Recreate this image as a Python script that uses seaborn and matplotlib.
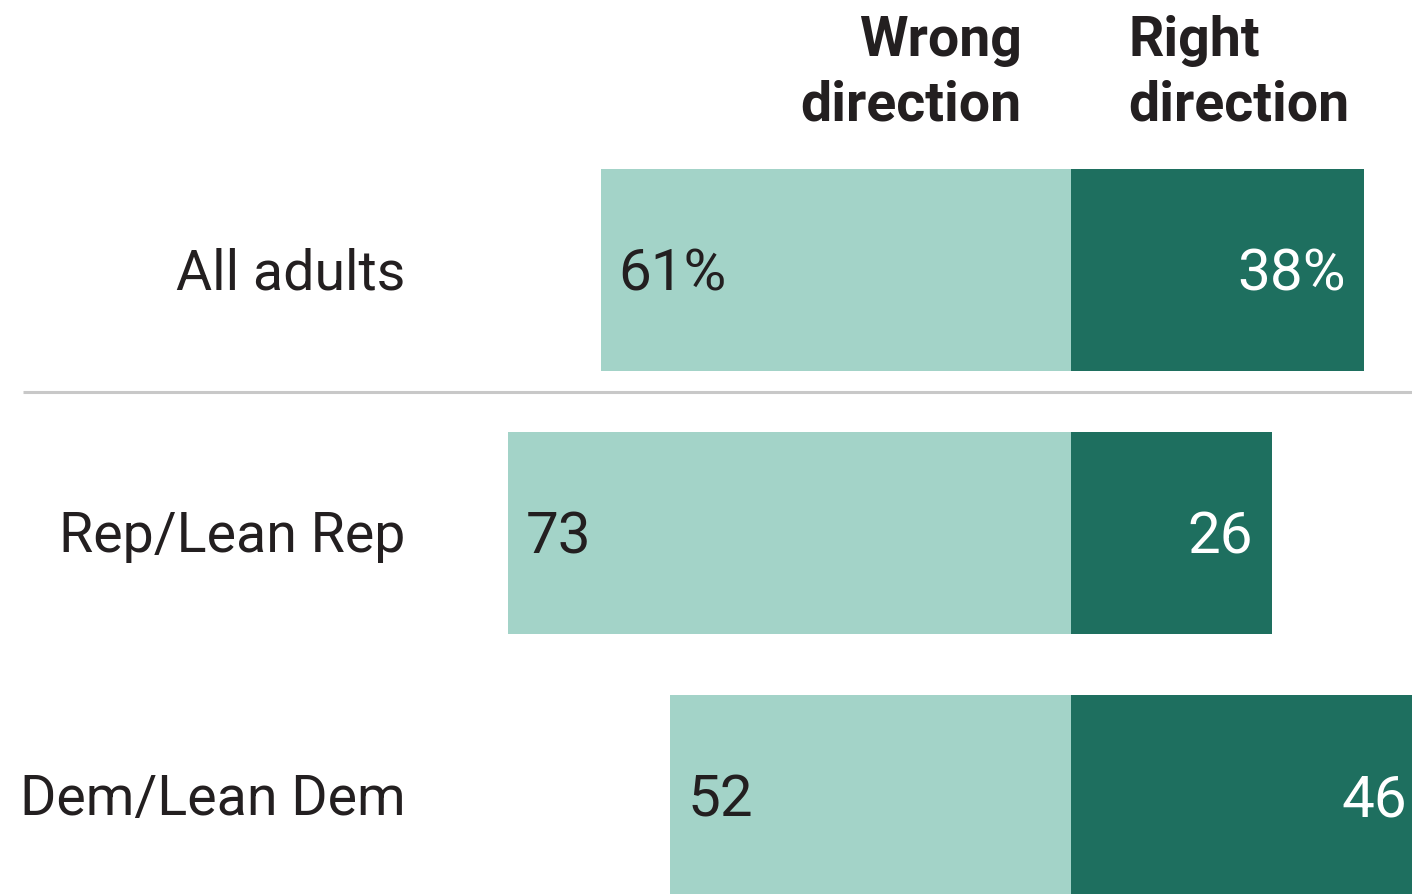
import matplotlib
matplotlib.use("Agg")
import matplotlib.pyplot as plt
from matplotlib import font_manager
import seaborn as sns
import pandas as pd

groups = ["All adults", "Rep/Lean Rep", "Dem/Lean Dem"]
wrong = [61, 73, 52]
right = [38, 26, 46]
value_labels_wrong = ["61%", "73", "52"]
value_labels_right = ["38%", "26", "46"]
headers = ["Wrong\ndirection", "Right\ndirection"]

LIGHT = "#a3d3c8"
DARK = "#1e6f5f"
TEXT = "#231f20"

sns.set_theme(style="white")

available = {f.name for f in font_manager.fontManager.ttflist}
def pick(*names):
    for n in names:
        if n in available:
            return n
    return "DejaVu Sans"

body_font = pick("Roboto", "Liberation Sans", "DejaVu Sans")
head_font = pick("Roboto", "Liberation Sans", "DejaVu Sans")
plt.rcParams["font.family"] = [body_font, "DejaVu Sans"]

df = pd.DataFrame({"group": groups, "wrong": [-w for w in wrong], "right": right})

fig = plt.figure(figsize=(14.12, 8.95), dpi=100)
ax = fig.add_axes([0, 0, 1, 1])

sns.barplot(data=df, y="group", x="wrong", color=LIGHT, width=0.768,
            orient="h", ax=ax, saturation=1, linewidth=0)
sns.barplot(data=df, y="group", x="right", color=DARK, width=0.768,
            orient="h", ax=ax, saturation=1, linewidth=0)

ax.set_xlim(-138.9, 44.2)
ax.set_ylim(2.373, -1.030)
ax.axis("off")

fs_cat = 40
fs_val = 42
for i, g in enumerate(groups):
    ax.text(-86.3, i + 0.01, g, ha="right", va="center", fontsize=fs_cat, color=TEXT)
    ax.text(-wrong[i] + 2.3, i + 0.015, value_labels_wrong[i], ha="left", va="center",
            fontsize=fs_val, color=TEXT)
    ax.text(right[i] - 2.4, i + 0.015, value_labels_right[i], ha="right", va="center",
            fontsize=fs_val, color="white")

# separator between total and party rows
ax.plot([-135.9, 44.2], [0.464, 0.464], color="#c8c8c8", lw=2.2,
        solid_capstyle="butt")

ax.text(-6.4, -0.752, headers[0], ha="right", va="center", fontsize=40,
        fontweight="bold", color=TEXT, family=[head_font, "DejaVu Sans"],
        linespacing=1.32)
ax.text(7.4, -0.752, headers[1], ha="left", va="center", fontsize=40,
        fontweight="bold", color=TEXT, family=[head_font, "DejaVu Sans"],
        linespacing=1.32)

fig.savefig("out.png", dpi=100)
